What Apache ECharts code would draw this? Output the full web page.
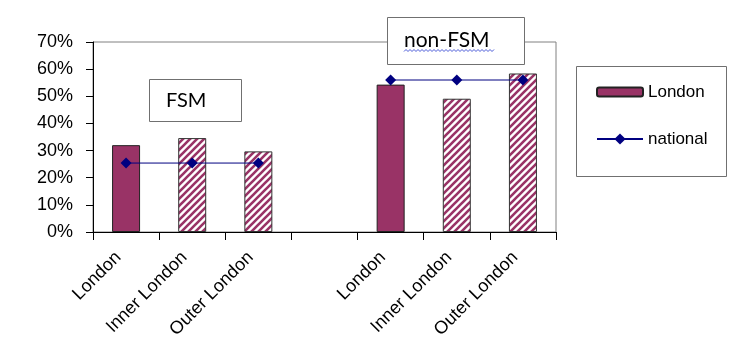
<!DOCTYPE html>
<html><head><meta charset="utf-8">
<script src="https://cdn.jsdelivr.net/npm/echarts@6/dist/echarts.min.js"></script>
<style>html,body{margin:0;padding:0;background:#fff}#c{width:754px;height:355px}</style>
</head><body><div id="c"></div>
<script>
// ---- data ----
const categories = ['London', 'Inner London', 'Outer London', '', 'London', 'Inner London', 'Outer London'];
const londonValues = [32, 34.6, 29.7, null, 54.3, 49.1, 58.4];
const nationalValues = [25.4, 25.4, 25.4, null, 56, 56, 56];
const hatchedFlags = [false, true, true, false, false, true, true];
const yMin = 0, yMax = 70, yStep = 10;
const groupLabels = ['FSM', 'non-FSM'];
const seriesNames = ['London', 'national'];

// ---- styles ----
const MAROON = '#993366';
const NAVY = '#000080';

function makeHatch() {
  const s = 7;
  const c = document.createElement('canvas');
  c.width = s; c.height = s;
  const g = c.getContext('2d');
  g.fillStyle = '#fff'; g.fillRect(0, 0, s, s);
  g.strokeStyle = MAROON; g.lineWidth = 2.6;
  g.beginPath();
  g.moveTo(-1, s + 1); g.lineTo(s + 1, -1);
  g.moveTo(-2, 2); g.lineTo(2, -2);
  g.moveTo(s - 2, s + 2); g.lineTo(s + 2, s - 2);
  g.stroke();
  return c;
}
const hatch = { image: makeHatch(), repeat: 'repeat' };

const barData = londonValues.map((v, i) => ({
  value: v,
  itemStyle: hatchedFlags[i] ? { color: hatch, borderColor: '#333', borderWidth: 1 } : { color: MAROON, borderColor: '#222', borderWidth: 1 }
}));

// wavy underline (decoration)
const wave = [];
for (let x = 404, k = 0; x <= 495; x += 2, k++) wave.push([x, k % 2 ? 49.5 : 51.5]);

const chart = echarts.init(document.getElementById('c'), null, { renderer: 'canvas' });
chart.setOption({
  backgroundColor: '#fff',
  animation: false,
  grid: { left: 93, right: 198, top: 42, bottom: 123, show: true, borderColor: '#808080', borderWidth: 1, backgroundColor: 'transparent' },
  xAxis: {
    type: 'category', data: categories, boundaryGap: true,
    axisLine: { lineStyle: { color: '#000', width: 1 } },
    axisTick: { show: true, length: 8, inside: false, interval: 0, lineStyle: { color: '#000' } },
    axisLabel: { interval: 0, rotate: 45, margin: 15, padding: [0, 11, 0, 0], color: '#000', fontFamily: 'Liberation Sans, Arial', fontSize: 18 },
    splitLine: { show: false }
  },
  yAxis: {
    type: 'value', min: yMin, max: yMax, interval: yStep,
    axisLine: { show: true, lineStyle: { color: '#000', width: 1 } },
    axisTick: { show: true, length: 7, lineStyle: { color: '#000' } },
    axisLabel: { formatter: '{value}%', margin: 20, color: '#000', fontFamily: 'Liberation Sans, Arial', fontSize: 18 },
    splitLine: { show: false }
  },
  legend: [
    { data: [seriesNames[0]], left: 596, top: 83, orient: 'vertical', itemWidth: 46, itemHeight: 9, itemGap: 0,
      textStyle: { color: '#000', fontFamily: 'Liberation Sans, Arial', fontSize: 17, lineHeight: 18 }, padding: 0, selectedMode: false },
    { data: [seriesNames[1]], left: 596, top: 130, orient: 'vertical', itemWidth: 46, itemHeight: 14, itemGap: 0,
      textStyle: { color: '#000', fontFamily: 'Liberation Sans, Arial', fontSize: 17, lineHeight: 18 }, padding: 0, selectedMode: false }
  ],
  series: [
    { name: seriesNames[0], type: 'bar', data: barData, barWidth: 28, itemStyle: { color: MAROON, borderColor: '#222', borderWidth: 1 }, z: 2 },
    { name: seriesNames[1], type: 'line', data: nationalValues, connectNulls: false, symbol: 'diamond', symbolSize: 11,
      lineStyle: { color: NAVY, width: 1 }, itemStyle: { color: NAVY }, z: 3 }
  ],
  graphic: [
    { type: 'rect', left: 576, top: 66, shape: { width: 150, height: 110 }, style: { fill: 'transparent', stroke: '#707070', lineWidth: 1 }, z: 0 },
    { type: 'group', z: 10, children: [
      { type: 'rect', x: 149.5, y: 79.5, shape: { width: 92, height: 42 }, style: { fill: '#fff', stroke: '#707070', lineWidth: 1 } },
      { type: 'text', x: 166, y: 101, style: { text: groupLabels[0], fill: '#000', font: '20px Lato, "Open Sans", sans-serif', textVerticalAlign: 'middle' } },
      { type: 'rect', x: 387.5, y: 17.5, shape: { width: 137, height: 47 }, style: { fill: '#fff', stroke: '#707070', lineWidth: 1 } },
      { type: 'text', x: 404, y: 40, style: { text: groupLabels[1], fill: '#000', font: '21px Lato, "Open Sans", sans-serif', textVerticalAlign: 'middle' } },
      { type: 'polyline', shape: { points: wave }, style: { stroke: '#4a5ad8', lineWidth: 1, fill: null } }
    ] }
  ]
});
</script>
</body></html>
